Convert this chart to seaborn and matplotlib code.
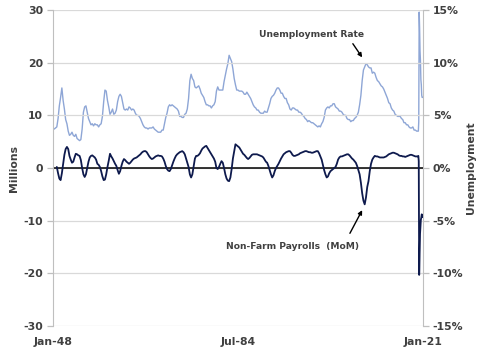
import numpy as np
import pandas as pd
import matplotlib
matplotlib.use("Agg")
import matplotlib.pyplot as plt
import seaborn as sns

# Unemployment rate (%), quarterly 1948-2019
unemp_q = [
    3.8, 3.7, 3.8, 3.9,   # 1948
    4.7, 5.9, 6.7, 7.6,   # 1949
    6.4, 5.6, 4.6, 4.2,   # 1950
    3.5, 3.1, 3.2, 3.4,   # 1951
    3.1, 3.0, 3.2, 2.8,   # 1952
    2.7, 2.6, 2.7, 3.7,   # 1953
    5.3, 5.8, 5.9, 5.3,   # 1954
    4.7, 4.4, 4.1, 4.2,   # 1955
    4.0, 4.2, 4.1, 4.1,   # 1956
    3.9, 4.1, 4.2, 4.9,   # 1957
    6.3, 7.4, 7.3, 6.4,   # 1958
    5.8, 5.1, 5.3, 5.6,   # 1959
    5.1, 5.2, 5.5, 6.3,   # 1960
    6.8, 7.0, 6.8, 6.2,   # 1961
    5.6, 5.5, 5.6, 5.5,   # 1962
    5.8, 5.7, 5.5, 5.6,   # 1963
    5.5, 5.2, 5.0, 5.0,   # 1964
    4.9, 4.7, 4.4, 4.1,   # 1965
    3.9, 3.8, 3.8, 3.7,   # 1966
    3.8, 3.8, 3.8, 3.9,   # 1967
    3.7, 3.6, 3.5, 3.4,   # 1968
    3.4, 3.4, 3.6, 3.6,   # 1969
    4.2, 4.8, 5.2, 5.8,   # 1970
    6.0, 5.9, 6.0, 5.9,   # 1971
    5.8, 5.7, 5.6, 5.4,   # 1972
    4.9, 4.9, 4.8, 4.8,   # 1973
    5.1, 5.2, 5.6, 6.6,   # 1974
    8.3, 8.9, 8.5, 8.3,   # 1975
    7.7, 7.6, 7.7, 7.8,   # 1976
    7.5, 7.1, 6.9, 6.7,   # 1977
    6.3, 6.0, 6.0, 5.9,   # 1978
    5.9, 5.7, 5.9, 6.0,   # 1979
    6.3, 7.3, 7.7, 7.4,   # 1980
    7.4, 7.4, 7.4, 8.2,   # 1981
    8.8, 9.4, 9.9, 10.7,  # 1982
    10.4, 10.1, 9.4, 8.5, # 1983
    7.9, 7.4, 7.4, 7.3,   # 1984
    7.3, 7.3, 7.2, 7.0,   # 1985
    7.0, 7.2, 7.0, 6.8,   # 1986
    6.6, 6.3, 6.0, 5.8,   # 1987
    5.7, 5.5, 5.5, 5.3,   # 1988
    5.2, 5.2, 5.2, 5.4,   # 1989
    5.3, 5.3, 5.7, 6.1,   # 1990
    6.6, 6.8, 6.9, 7.1,   # 1991
    7.4, 7.6, 7.6, 7.4,   # 1992
    7.1, 7.1, 6.8, 6.6,   # 1993
    6.6, 6.2, 6.0, 5.6,   # 1994
    5.5, 5.7, 5.7, 5.6,   # 1995
    5.5, 5.5, 5.3, 5.3,   # 1996
    5.2, 5.0, 4.9, 4.7,   # 1997
    4.6, 4.4, 4.5, 4.4,   # 1998
    4.3, 4.3, 4.2, 4.1,   # 1999
    4.0, 3.9, 4.0, 3.9,   # 2000
    4.2, 4.4, 4.8, 5.5,   # 2001
    5.7, 5.8, 5.7, 5.9,   # 2002
    5.9, 6.1, 6.1, 5.8,   # 2003
    5.7, 5.6, 5.4, 5.4,   # 2004
    5.3, 5.1, 5.0, 5.0,   # 2005
    4.7, 4.6, 4.6, 4.4,   # 2006
    4.5, 4.5, 4.7, 4.8,   # 2007
    5.0, 5.3, 6.0, 6.9,   # 2008
    8.3, 9.3, 9.6, 9.9,   # 2009
    9.8, 9.6, 9.5, 9.5,   # 2010
    9.0, 9.1, 9.0, 8.6,   # 2011
    8.3, 8.2, 8.0, 7.8,   # 2012
    7.7, 7.5, 7.2, 6.9,   # 2013
    6.6, 6.2, 6.1, 5.7,   # 2014
    5.5, 5.4, 5.1, 5.0,   # 2015
    4.9, 4.9, 4.9, 4.7,   # 2016
    4.6, 4.3, 4.3, 4.1,   # 2017
    4.1, 3.9, 3.8, 3.8,   # 2018
    3.9, 3.6, 3.6, 3.5,   # 2019
]
# monthly 2020
unemp_2020 = [3.5, 3.5, 4.4, 14.8, 13.3, 11.1, 10.2, 8.4, 7.9, 6.9, 6.7, 6.7]

# Non-farm payrolls change (millions), quarterly 1948-2019
nfp_q = [
    np.nan, np.nan, np.nan, 0.2,  # 1948
    -1.0, -2.0, -2.3, -1.0,  # 1949
    0.8, 2.5, 3.6, 4.0,   # 1950
    3.6, 2.3, 1.6, 1.0,   # 1951
    1.2, 2.0, 2.7, 2.6,   # 1952
    2.4, 2.3, 1.5, 0.0,   # 1953
    -1.2, -1.7, -1.2, 0.0,  # 1954
    1.2, 2.0, 2.3, 2.4,   # 1955
    2.2, 2.0, 1.6, 0.8,   # 1956
    0.6, 0.2, -0.6, -1.6,  # 1957
    -2.3, -2.2, -1.2, 0.2,  # 1958
    1.4, 2.7, 2.2, 1.8,   # 1959
    1.3, 0.8, 0.4, -0.4,  # 1960
    -1.1, -0.6, 0.4, 1.2,  # 1961
    1.7, 1.5, 1.2, 1.0,   # 1962
    0.8, 1.0, 1.3, 1.6,   # 1963
    1.8, 1.9, 2.0, 2.2,   # 1964
    2.4, 2.6, 2.9, 3.1,   # 1965
    3.2, 3.2, 3.0, 2.6,   # 1966
    2.2, 1.9, 1.7, 1.8,   # 1967
    2.0, 2.2, 2.3, 2.4,   # 1968
    2.3, 2.3, 2.2, 1.8,   # 1969
    1.2, 0.4, -0.2, -0.5,  # 1970
    -0.6, -0.2, 0.5, 1.2,  # 1971
    1.8, 2.3, 2.6, 2.8,   # 1972
    3.0, 3.1, 3.2, 3.0,   # 1973
    2.6, 1.8, 1.0, 0.2,   # 1974
    -1.2, -1.8, -1.2, 0.3,  # 1975
    1.8, 2.3, 2.3, 2.5,   # 1976
    2.8, 3.3, 3.7, 3.9,   # 1977
    4.1, 4.2, 3.8, 3.4,   # 1978
    3.0, 2.6, 2.2, 1.8,   # 1979
    1.2, 0.0, -0.2, 0.2,  # 1980
    0.8, 1.3, 1.0, 0.0,   # 1981
    -1.2, -2.0, -2.4, -2.5,  # 1982
    -1.8, -0.2, 1.8, 3.2,  # 1983
    4.5, 4.3, 4.1, 3.9,   # 1984
    3.5, 3.1, 2.7, 2.5,   # 1985
    2.2, 1.9, 1.7, 1.9,   # 1986
    2.2, 2.5, 2.6, 2.6,   # 1987
    2.6, 2.6, 2.5, 2.4,   # 1988
    2.3, 2.2, 2.0, 1.6,   # 1989
    1.2, 1.0, 0.4, -0.4,  # 1990
    -1.2, -1.8, -1.4, -0.6,  # 1991
    0.0, 0.4, 0.8, 1.3,   # 1992
    1.8, 2.2, 2.6, 2.8,   # 1993
    3.0, 3.1, 3.2, 3.2,   # 1994
    2.9, 2.5, 2.3, 2.3,   # 1995
    2.4, 2.5, 2.6, 2.8,   # 1996
    2.9, 3.0, 3.1, 3.2,   # 1997
    3.2, 3.1, 3.0, 3.0,   # 1998
    2.9, 2.9, 3.0, 3.1,   # 1999
    3.2, 3.2, 2.8, 2.2,   # 2000
    1.6, 0.6, -0.4, -1.2,  # 2001
    -1.8, -1.6, -1.0, -0.6,  # 2002
    -0.4, -0.2, 0.0, 0.2,  # 2003
    0.8, 1.6, 2.0, 2.2,   # 2004
    2.2, 2.3, 2.4, 2.5,   # 2005
    2.6, 2.6, 2.4, 2.1,   # 2006
    1.8, 1.6, 1.3, 1.0,   # 2007
    0.4, -0.4, -1.2, -2.8,  # 2008
    -4.8, -6.2, -6.9, -5.6,  # 2009
    -3.6, -2.5, -0.6, 0.8,  # 2010
    1.6, 2.0, 2.3, 2.2,   # 2011
    2.2, 2.1, 2.0, 2.0,   # 2012
    2.0, 2.0, 2.1, 2.2,   # 2013
    2.4, 2.6, 2.7, 2.8,   # 2014
    2.9, 2.9, 2.8, 2.7,   # 2015
    2.6, 2.4, 2.3, 2.3,   # 2016
    2.2, 2.2, 2.1, 2.2,   # 2017
    2.3, 2.4, 2.5, 2.5,   # 2018
    2.4, 2.3, 2.2, 2.2,   # 2019
]
nfp_2020 = [2.2, 2.3, 1.3, -20.3, -16.8, -12.5, -11.0, -9.8, -9.4, -8.8, -8.9, -9.3]

x_ticks = ["1948-01-01", "1984-07-01", "2021-01-01"]
x_tick_labels = ["Jan-48", "Jul-84", "Jan-21"]

dates = pd.date_range("1948-01-01", "2019-10-01", freq="QS").append(
    pd.date_range("2020-01-01", "2020-12-01", freq="MS"))
df = pd.DataFrame({
    "Date": dates,
    "Unemployment": unemp_q + unemp_2020,
    "NFP": nfp_q + nfp_2020,
})

sns.set_style("white")
plt.rcParams["font.family"] = ["DejaVu Sans"]
plt.rcParams["axes.unicode_minus"] = False
txt = "#404040"
grey = "#bfbfbf"

fig = plt.figure(figsize=(4.96, 3.58), dpi=100)
ax = fig.add_axes([53 / 496, 32 / 358, 370 / 496, 316 / 358])
ax2 = ax.twinx()

# сетка и нулевая линия
for v in range(-30, 31, 10):
    ax.axhline(v, color="#d9d9d9", lw=0.9, zorder=0)
ax.axhline(0, color="black", lw=1.1, zorder=1)

sns.lineplot(data=df, x="Date", y="NFP", ax=ax, color="#0e1a4d", lw=1.3, zorder=3)
sns.lineplot(data=df, x="Date", y="Unemployment", ax=ax2, color="#8ea6d6", lw=1.0, zorder=2)

ax.set_ylim(-30, 30)
ax2.set_ylim(-15, 15)
ax.set_xlim(pd.Timestamp("1948-01-01"), pd.Timestamp("2021-01-01"))
ax.set_yticks(range(-30, 31, 10))
ax2.set_yticks(range(-15, 16, 5))
ax2.set_yticklabels([f"{v}%" for v in range(-15, 16, 5)])
ax.set_xticks(pd.to_datetime(x_ticks))
ax.set_xticklabels(x_tick_labels)

for a in (ax, ax2):
    for s in a.spines.values():
        s.set_visible(False)
    a.tick_params(colors=grey, labelcolor=txt, labelsize=7.8, length=4, width=0.9)
    for lab in a.get_xticklabels() + a.get_yticklabels():
        lab.set_fontweight("bold")
ax.spines["left"].set_visible(True)
ax.spines["left"].set_color(grey)
ax2.spines["right"].set_visible(True)
ax2.spines["right"].set_color(grey)
ax.tick_params(axis="y", pad=3)
ax2.tick_params(axis="y", pad=3)
ax.tick_params(axis="x", pad=4)

ax.set_xlabel("")
ax.set_ylabel("Millions", color=txt, fontsize=7.8, fontweight="bold", labelpad=3)
ax2.set_ylabel("Unemployment", color=txt, fontsize=7.8, fontweight="bold", labelpad=2)
ax2.set_zorder(ax.get_zorder() - 1)
ax.patch.set_visible(False)

arrow = dict(arrowstyle="-|>", color="black", lw=1, mutation_scale=6,
             shrinkA=0, shrinkB=0)
ax.text(pd.Timestamp("1999-01-01"), 25.4, "Unemployment Rate", ha="center", va="center",
        fontsize=6.6, fontweight="bold", color=txt)
ax.annotate("", xy=(pd.Timestamp("2009-01-01"), 21.0),
            xytext=(pd.Timestamp("2007-03-01"), 23.6), arrowprops=arrow)
ax.text(pd.Timestamp("1995-03-01"), -14.9, "Non-Farm Payrolls  (MoM)", ha="center",
        va="center", fontsize=6.6, fontweight="bold", color=txt)
ax.annotate("", xy=(pd.Timestamp("2009-01-01"), -8.0),
            xytext=(pd.Timestamp("2006-08-01"), -12.4), arrowprops=arrow)

fig.savefig("out.png", dpi=100)
